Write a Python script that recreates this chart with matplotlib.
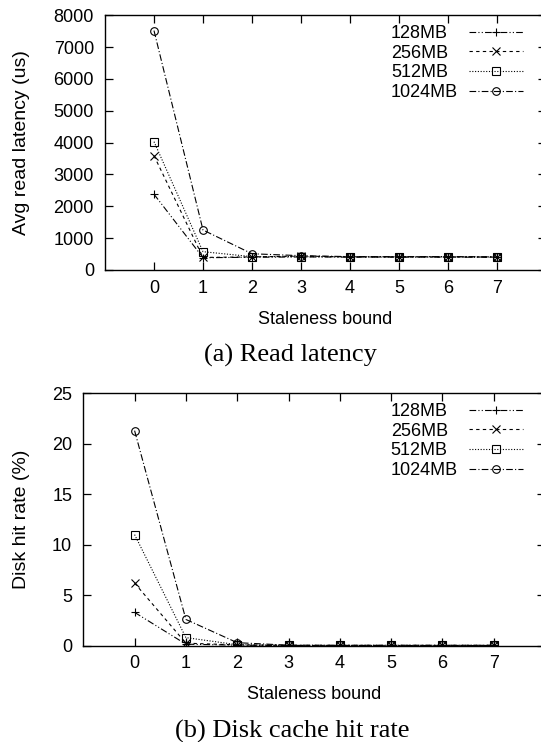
import matplotlib
matplotlib.use('Agg')
import matplotlib.pyplot as plt
from matplotlib.transforms import blended_transform_factory

plt.rcParams['font.family'] = 'Liberation Sans'
plt.rcParams['font.size'] = 13

# data
staleness = [0, 1, 2, 3, 4, 5, 6, 7]
cache_sizes = ['128MB', '256MB', '512MB', '1024MB']

latency_128 = [2380, 386, 400, 410, 405, 405, 405, 400]
latency_256 = [3590, 395, 410, 440, 410, 410, 410, 405]
latency_512 = [4030, 575, 420, 420, 415, 415, 415, 410]
latency_1024 = [7520, 1256, 510, 450, 420, 420, 420, 415]

hit_128 = [3.3, 0.15, 0.05, 0.02, 0.02, 0.02, 0.02, 0.02]
hit_256 = [6.2, 0.25, 0.08, 0.03, 0.03, 0.03, 0.03, 0.03]
hit_512 = [11.0, 0.8, 0.1, 0.03, 0.03, 0.03, 0.03, 0.03]
hit_1024 = [21.3, 2.6, 0.3, 0.05, 0.04, 0.04, 0.04, 0.04]

# gnuplot-like styles
markers = ['+', 'x', 's', 'o']
dashes = [(0, (6, 2, 1, 2, 1, 2)), (0, (3, 3)), (0, (1, 1.5)), (0, (6, 2, 1, 2))]

W, H = 541, 742
fig = plt.figure(figsize=(W / 100, H / 100), dpi=100)


def make_axes(left, top, right, bottom):
    return fig.add_axes([left / W, 1 - bottom / H, (right - left) / W, (bottom - top) / H])


def draw(ax, series, ymax, ystep, ylabel, leg_anchor):
    for vals, name, m, ls in zip(series, cache_sizes, markers, dashes):
        ax.plot(staleness, vals, color='black', lw=0.8, linestyle=ls,
                marker=m, markersize=5.5, markerfacecolor='none',
                markeredgewidth=0.8, label=name)
    ax.set_xlim(-1, 8)
    ax.set_ylim(0, ymax)
    ax.set_xticks(staleness)
    ax.set_yticks(range(0, ymax + 1, ystep))
    ax.tick_params(direction='in', length=6, width=0.9, top=True, right=True,
                   labelsize=13)
    ax.tick_params(axis='x', pad=7)
    ax.tick_params(axis='y', pad=8)
    for s in ax.spines.values():
        s.set_linewidth(1.0)
    ax.set_xlabel('Staleness bound', fontsize=13, labelpad=10)
    ax.set_ylabel(ylabel, fontsize=14)
    # y label centred around x = 18 px of the figure
    ax.yaxis.set_label_coords(30 / W, 0.5,
                              transform=blended_transform_factory(fig.transFigure, ax.transAxes))
    leg = ax.legend(loc='upper right', bbox_to_anchor=leg_anchor, frameon=False,
                    markerfirst=False, handlelength=3.0, handletextpad=0.6,
                    labelspacing=0.15, borderpad=0, borderaxespad=0, fontsize=13)
    return leg


ax1 = make_axes(105, 15.3, 546, 270)
leg1 = draw(ax1, [latency_128, latency_256, latency_512, latency_1024], 8000, 1000,
            'Avg read latency (us)', (0.948, 0.962))

ax2 = make_axes(83.3, 393.3, 545, 645.7)
leg2 = draw(ax2, [hit_128, hit_256, hit_512, hit_1024], 25, 5, 'Disk hit rate (%)',
            (0.952, 0.9616))

# gnuplot keys have left-aligned text: redraw legend labels left-aligned
fig.canvas.draw()
for leg in (leg1, leg2):
    texts = leg.get_texts()
    boxes = [t.get_window_extent() for t in texts]
    x0 = min(b.x0 for b in boxes)
    for t, b in zip(texts, boxes):
        fig.text(x0 / W, b.y0 / H, t.get_text(), fontsize=13, ha='left', va='bottom')
        t.set_alpha(0)

fig.text(290 / W, 1 - 355 / H, '(a) Read latency', family='Liberation Serif',
         fontsize=19, ha='center', va='center')
fig.text(292 / W, 1 - 731 / H, '(b) Disk cache hit rate', family='Liberation Serif',
         fontsize=19, ha='center', va='center')

fig.savefig('out.png', dpi=100)
